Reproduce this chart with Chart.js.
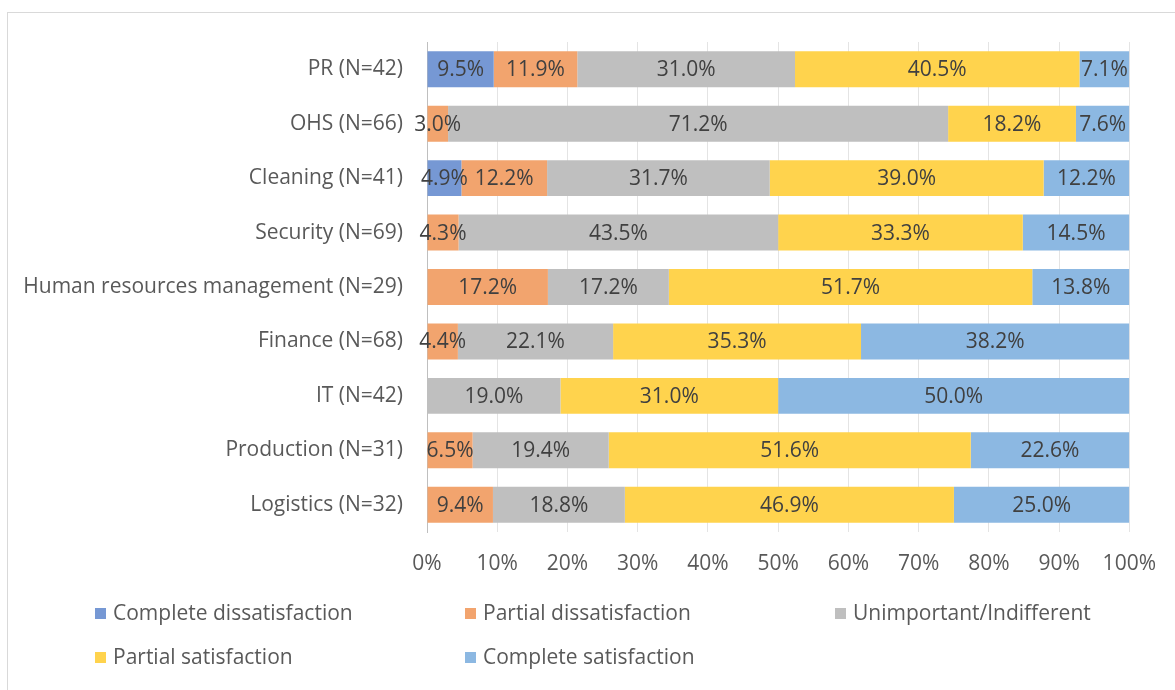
<!DOCTYPE html>
<html>
<head>
<meta charset="utf-8">
<script src="https://cdn.jsdelivr.net/npm/chart.js@4.4.1/dist/chart.umd.min.js"></script>
<style>
    body { margin: 0; background: #fff; }
    #wrap { width: 1175px; height: 690px; position: relative; }
</style>
</head>
<body>
<div id="wrap">
    <canvas id="chart" width="1175" height="690"></canvas>
</div>

<script>
    // categories, top to bottom
    var categories = ['PR (N=42)', 'OHS (N=66)', 'Cleaning (N=41)', 'Security (N=69)',
        'Human resources management (N=29)', 'Finance (N=68)', 'IT (N=42)',
        'Production (N=31)', 'Logistics (N=32)'];

    // shares in percent, as printed on the bars
    var completeDissatisfaction = [9.5, null, 4.9, null, null, null, null, null, null];
    var partialDissatisfaction = [11.9, 3.0, 12.2, 4.3, 17.2, 4.4, null, 6.5, 9.4];
    var indifferent = [31.0, 71.2, 31.7, 43.5, 17.2, 22.1, 19.0, 19.4, 18.8];
    var partialSatisfaction = [40.5, 18.2, 39.0, 33.3, 51.7, 35.3, 31.0, 51.6, 46.9];
    var completeSatisfaction = [7.1, 7.6, 12.2, 14.5, 13.8, 38.2, 50.0, 22.6, 25.0];

    var xTicks = [0, 10, 20, 30, 40, 50, 60, 70, 80, 90, 100];

    var series = [
        { label: 'Complete dissatisfaction', values: completeDissatisfaction, color: '#7698d4' },
        { label: 'Partial dissatisfaction', values: partialDissatisfaction, color: '#f2a46e' },
        { label: 'Unimportant/Indifferent', values: indifferent, color: '#bfbfbf' },
        { label: 'Partial satisfaction', values: partialSatisfaction, color: '#ffd34d' },
        { label: 'Complete satisfaction', values: completeSatisfaction, color: '#8cb8e2' }
    ];

    // 100% stacked: each row is scaled to its total, like the spreadsheet does
    var totals = categories.map(function (c, i) {
        return series.reduce(function (s, d) { return s + (d.values[i] || 0); }, 0);
    });

    var FONT = '"Open Sans", sans-serif';

    var frame = {
        id: 'frame',
        beforeDraw: function (chart) {
            var c = chart.ctx;
            c.save();
            c.strokeStyle = '#d9d9d9';
            c.lineWidth = 1;
            c.strokeRect(7.5, 12.5, 1200, 700);
            c.restore();
        }
    };

    var barLabels = {
        id: 'barLabels',
        afterDatasetsDraw: function (chart) {
            var c = chart.ctx;
            c.save();
            c.font = '21px ' + FONT;
            c.fillStyle = '#404040';
            c.textAlign = 'center';
            c.textBaseline = 'middle';
            chart.data.datasets.forEach(function (ds, di) {
                var meta = chart.getDatasetMeta(di);
                meta.data.forEach(function (el, i) {
                    var v = ds.raw[i];
                    if (v == null) return;
                    c.fillText(v.toFixed(1) + '%', (el.x + el.base) / 2, el.y + 1);
                });
            });
            c.restore();
        }
    };

    var legendGrid = {
        id: 'legendGrid',
        afterDraw: function (chart) {
            var c = chart.ctx;
            var cols = [95, 465, 835];
            var rows = [613, 657];
            c.save();
            c.font = '21px ' + FONT;
            c.textBaseline = 'middle';
            chart.data.datasets.forEach(function (ds, i) {
                var x = cols[i % 3], y = rows[Math.floor(i / 3)];
                c.fillStyle = ds.backgroundColor;
                c.fillRect(x, y - 5, 11, 11);
                c.fillStyle = '#595959';
                c.fillText(ds.label, x + 18, y + 1);
            });
            c.restore();
        }
    };

    var ctx = document.getElementById('chart').getContext('2d');
    var chart = new Chart(ctx, {
        type: 'bar',
        data: {
            labels: categories,
            datasets: series.map(function (s) {
                return {
                    label: s.label,
                    raw: s.values,
                    data: s.values.map(function (v, i) { return v == null ? null : v / totals[i] * 100; }),
                    backgroundColor: s.color,
                    borderWidth: 0,
                    barPercentage: 1,
                    categoryPercentage: 0.66
                };
            })
        },
        options: {
            indexAxis: 'y',
            responsive: false,
            animation: false,
            layout: { padding: { left: 0, right: 45, top: 42, bottom: 58 } },
            plugins: {
                legend: { display: false },
                tooltip: { enabled: false }
            },
            scales: {
                x: {
                    stacked: true,
                    min: 0,
                    max: 100,
                    afterBuildTicks: function (scale) {
                        scale.ticks = xTicks.map(function (v) { return { value: v }; });
                    },
                    afterFit: function (scale) { scale.height = 100; },
                    grid: { color: '#e4e4e4', drawTicks: false },
                    border: { display: false },
                    ticks: {
                        padding: 19,
                        color: '#595959',
                        font: { size: 21, family: FONT },
                        callback: function (v) { return v + '%'; }
                    }
                },
                y: {
                    stacked: true,
                    afterFit: function (scale) { scale.width = 427; },
                    grid: { display: false, drawTicks: false },
                    border: { display: true, color: '#bfbfbf', width: 1 },
                    ticks: {
                        padding: 24,
                        color: '#595959',
                        font: { size: 21, family: FONT }
                    }
                }
            }
        },
        plugins: [frame, barLabels, legendGrid]
    });
</script>
</body>
</html>
